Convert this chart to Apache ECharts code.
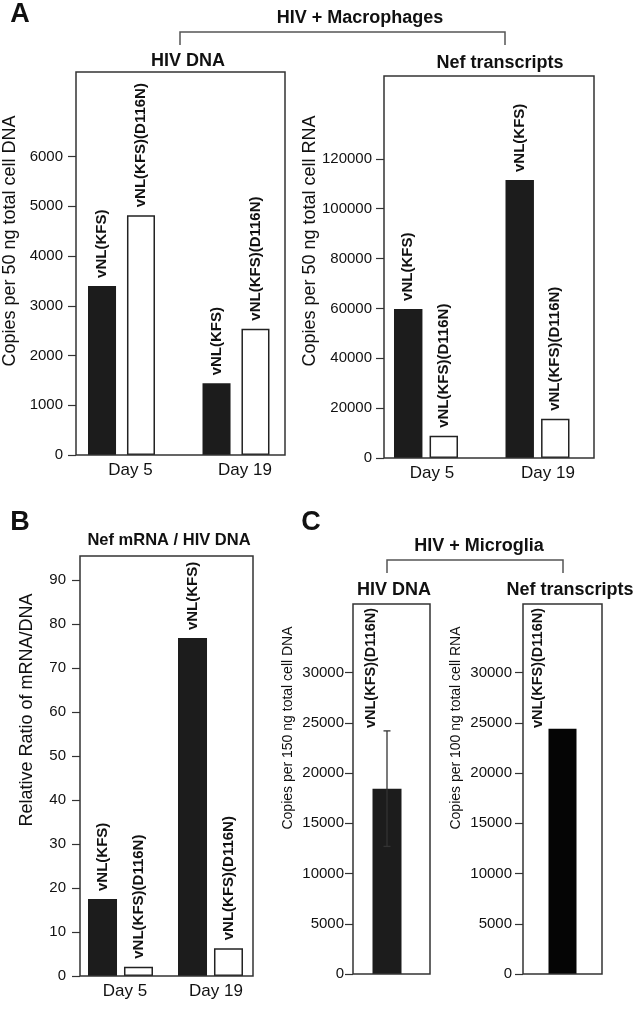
<!DOCTYPE html>
<html><head><meta charset="utf-8">
<script src="https://cdn.jsdelivr.net/npm/echarts@6/dist/echarts.min.js"></script>
<style>html,body{margin:0;padding:0;background:#fff}#c{width:635px;height:1020px}</style>
</head><body><div id="c"></div>
<script>
// ---- data ----
const days = ['Day 5', 'Day 19'];
const seriesNames = ['vNL(KFS)', 'vNL(KFS)(D116N)'];
const a1KFS = [3400, 1440];
const a1D116N = [4820, 2540];
const a1Ticks = [0, 1000, 2000, 3000, 4000, 5000, 6000];
const a2KFS = [59800, 111500];
const a2D116N = [8900, 15700];
const a2Ticks = [0, 20000, 40000, 60000, 80000, 100000, 120000];
const bKFS = [17.5, 76.8];
const bD116N = [2.1, 6.3];
const bTicks = [0, 10, 20, 30, 40, 50, 60, 70, 80, 90];
const c1DNA = [18450];
const c1Err = [[0, 12700, 24200]];
const c2Nef = [24400];
const cTicks = [0, 5000, 10000, 15000, 20000, 25000, 30000];

const FF = "'Liberation Sans', Arial, Helvetica, sans-serif";
const chart = echarts.init(document.getElementById('c'), null, {renderer: 'canvas'});

// plotting grids (bar placement) and the drawn boxes
const boxes = [
  {x: 76, y: 72, width: 209, height: 383},
  {x: 384, y: 76, width: 210, height: 382},
  {x: 80, y: 556, width: 173, height: 420},
  {x: 353, y: 604, width: 77, height: 370},
  {x: 523, y: 604, width: 79, height: 370}
];
const grids = [
  {left: 64.25, top: 72, width: 229, height: 383},
  {left: 370.25, top: 76, width: 223, height: 382},
  {left: 75.5, top: 556, width: 180, height: 420},
  {left: 348.5, top: 604, width: 77, height: 370},
  {left: 523, top: 604, width: 79, height: 370}
].map(g => Object.assign({show: false, containLabel: false, outerBoundsMode: 'none'}, g));

function xAx(i, data, show, pads) {
  return {gridIndex: i, type: 'category', data: data,
    axisLine: {show: false}, axisTick: {show: false},
    axisLabel: {show: show, interval: 0, hideOverlap: false, fontSize: 17, color: '#111', fontFamily: FF, margin: 7,
      formatter: (v, idx) => '{d' + idx + '|' + v + '}',
      rich: pads ? {
        d0: {fontSize: 17, color: '#111', fontFamily: FF, padding: [0, 0, 0, pads[0]]},
        d1: {fontSize: 17, color: '#111', fontFamily: FF, padding: [0, 0, 0, pads[1]]}
      } : {}}};
}
function yAx(i, max, ticks, margin, off) {
  return {gridIndex: i, type: 'value', min: 0, max: max, offset: off,
    axisLine: {show: false}, splitLine: {show: false},
    axisTick: {show: true, length: 8, customValues: ticks, lineStyle: {color: '#333', width: 1.2}},
    axisLabel: {customValues: ticks, fontSize: 15, color: '#111', fontFamily: FF, margin: margin,
      formatter: v => String(v)}};
}
const lbl = {show: true, position: 'top', rotate: 90, align: 'left', verticalAlign: 'middle', distance: 8,
  fontSize: 15, fontWeight: 'bold', color: '#111', fontFamily: FF, formatter: p => p.seriesName};
const blackBar = {color: '#1c1c1c'};
const whiteBar = {color: '#fff', borderColor: '#222', borderWidth: 1.5};

function pair(i, k, d, catGap, barGap) {
  return [
    {type: 'bar', name: seriesNames[0], xAxisIndex: i, yAxisIndex: i, data: k, itemStyle: blackBar,
      barGap: barGap, barCategoryGap: catGap, label: lbl, silent: true},
    {type: 'bar', name: seriesNames[1], xAxisIndex: i, yAxisIndex: i, data: d, itemStyle: whiteBar,
      barGap: barGap, barCategoryGap: catGap, label: lbl, silent: true}
  ];
}

function txt(x, y, t, size, bold, rot) {
  return {type: 'text', x: x, y: y, rotation: rot ? Math.PI / 2 : 0,
    style: {text: t, fontSize: size, fontWeight: bold ? 'bold' : 'normal', fontFamily: FF, fill: '#111',
      align: 'center', verticalAlign: 'middle'}, silent: true};
}
function bracket(x1, x2, y, y2) {
  return {type: 'polyline', shape: {points: [[x1, y2], [x1, y], [x2, y], [x2, y2]]},
    style: {stroke: '#555', lineWidth: 1.5, fill: null}, silent: true};
}
function box(b) {
  return {type: 'rect', shape: b, style: {stroke: '#333', lineWidth: 1.5, fill: null}, silent: true, z: 100};
}

const option = {
  animation: false,
  textStyle: {fontFamily: FF},
  grid: grids,
  xAxis: [xAx(0, days, true, [18, 18]), xAx(1, days, true, [12, 21]), xAx(2, days, true, [9, 11]),
          xAx(3, [''], false), xAx(4, [''], false)],
  yAxis: [yAx(0, 7700, a1Ticks, 13, -11.75), yAx(1, 153200, a2Ticks, 12, -13.75), yAx(2, 95.45, bTicks, 14, -4.5),
          yAx(3, 36830, cTicks, 9, -4.5), yAx(4, 36830, cTicks, 11, 0)],
  series: [].concat(
    pair(0, a1KFS, a1D116N, '41.5%', '39%'),
    pair(1, a2KFS, a2D116N, '42.6%', '25%'),
    pair(2, bKFS, bD116N, '27.8%', '24%'),
    [
      {type: 'bar', name: seriesNames[1], xAxisIndex: 3, yAxisIndex: 3, data: c1DNA, barWidth: 29,
        itemStyle: {color: '#1c1c1c'}, silent: true},
      {type: 'custom', xAxisIndex: 3, yAxisIndex: 3, data: c1Err, silent: true, z: 5,
        renderItem: function (params, api) {
          const lo = api.coord([api.value(0), api.value(1)]);
          const hi = api.coord([api.value(0), api.value(2)]);
          const w = 3.5;
          const st = {stroke: '#333', lineWidth: 1.3};
          return {type: 'group', children: [
            {type: 'line', shape: {x1: lo[0], y1: lo[1], x2: hi[0], y2: hi[1]}, style: st},
            {type: 'line', shape: {x1: hi[0] - w, y1: hi[1], x2: hi[0] + w, y2: hi[1]}, style: st},
            {type: 'line', shape: {x1: lo[0] - w, y1: lo[1], x2: lo[0] + w, y2: lo[1]}, style: st}
          ]};
        }},
      {type: 'bar', name: seriesNames[1], xAxisIndex: 4, yAxisIndex: 4, data: c2Nef, barWidth: 28,
        itemStyle: {color: '#050505'}, silent: true}
    ]
  ),
  graphic: boxes.map(box).concat([
    txt(20, 15, 'A', 27, true),
    txt(360, 18, 'HIV + Macrophages', 18, true),
    bracket(180, 505, 32, 45),
    txt(188, 61, 'HIV DNA', 18, true),
    txt(500, 63, 'Nef transcripts', 18, true),
    txt(10, 241, 'Copies per 50 ng total cell DNA', 18, false, true),
    txt(310, 241, 'Copies per 50 ng total cell RNA', 18, false, true),
    txt(20, 523, 'B', 27, true),
    txt(169, 540, 'Nef mRNA / HIV DNA', 16.5, true),
    txt(27, 710, 'Relative Ratio of mRNA/DNA', 18, false, true),
    txt(311, 523, 'C', 27, true),
    txt(479, 546, 'HIV + Microglia', 18, true),
    bracket(387, 563, 560, 573),
    txt(394, 590, 'HIV DNA', 18, true),
    txt(570, 590, 'Nef transcripts', 18, true),
    txt(288, 728, 'Copies per 150 ng total cell DNA', 14, false, true),
    txt(456, 728, 'Copies per 100 ng total cell RNA', 14, false, true),
    txt(371, 668, 'vNL(KFS)(D116N)', 14.5, true, true),
    txt(538, 668, 'vNL(KFS)(D116N)', 14.5, true, true)
  ])
};
chart.setOption(option);
</script></body></html>
